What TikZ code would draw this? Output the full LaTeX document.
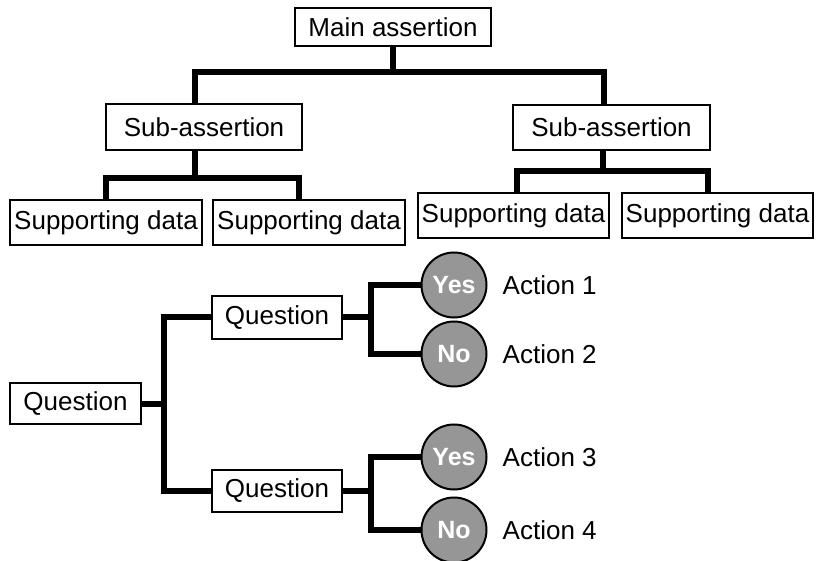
\documentclass[tikz,border=0pt]{standalone}
\usepackage{fontspec}
\setsansfont{Liberation Sans}
\usepackage{tikz}
\usetikzlibrary{positioning}

\definecolor{answergray}{RGB}{150,150,150}

\begin{document}
\begin{tikzpicture}[x=1pt,y=-1pt,
        box/.style={draw, black, line width=2pt, inner sep=0pt,
                font=\sffamily\fontsize{26}{30}\selectfont},
        answer/.style={circle, draw, black, line width=2pt, fill=answergray, minimum size=65pt,
                inner sep=0pt, text=white, font=\sffamily\bfseries\fontsize{25}{30}\selectfont},
        action/.style={inner sep=2pt, font=\sffamily\fontsize{26}{30}\selectfont},
        conn/.style={black, line width=6pt}]
                \useasboundingbox (0,0) rectangle (825,561);

                % assertion tree
                \node[box, minimum width=196pt, minimum height=38pt] (main) at (393,27) {Main assertion};
                \node[box, minimum width=196pt, minimum height=46pt] (subL) at (204,127) {Sub-assertion};
                \node[box, minimum width=197pt, minimum height=45pt] (subR) at (611.5,127.5) {Sub-assertion};
                \node[box, minimum width=192pt, minimum height=45pt] (sd1) at (106,222.5) {Supporting data};
                \node[box, minimum width=192pt, minimum height=45pt] (sd2) at (309,222.5) {Supporting data};
                \node[box, minimum width=191pt, minimum height=45pt] (sd3) at (513.5,215.5) {Supporting data};
                \node[box, minimum width=191pt, minimum height=45pt] (sd4) at (717.5,215.5) {Supporting data};

                \draw[conn] (main.south) -- ++(0,25) coordinate (mj);
                \draw[conn] ([xshift=-9pt]subL.north) |- (mj) -| ([xshift=-8pt]subR.north);
                \draw[conn] ([xshift=-9pt]subL.south) -- ++(0,27) coordinate (lj);
                \draw[conn] (sd1.north) |- (lj) -| ([xshift=-10pt]sd2.north);
                \draw[conn] ([xshift=-9pt]subR.south) -- ++(0,20) coordinate (rj);
                \draw[conn] ([xshift=3pt]sd3.north) |- (rj) -| ([xshift=-10pt]sd4.north);

                % question tree
                \node[box, minimum width=131pt, minimum height=41pt] (q0) at (75.5,403.5) {Question};
                \node[box, minimum width=130pt, minimum height=43pt] (q1) at (277,317.5) {Question};
                \node[box, minimum width=130pt, minimum height=42pt] (q2) at (277,491) {Question};

                \node[answer] (yes1) at (454,285) {Yes};
                \node[answer] (no1) at (454,354) {No};
                \node[answer] (yes2) at (454,457) {Yes};
                \node[answer] (no2) at (454,530) {No};

                \node[action, right=13pt of yes1] (act1) {Action 1};
                \node[action, right=13pt of no1] (act2) {Action 2};
                \node[action, right=13pt of yes2] (act3) {Action 3};
                \node[action, right=13pt of no2] (act4) {Action 4};

                \draw[conn] (q0.east) -- ++(22,0) coordinate (qj);
                \draw[conn] (q1.west) -| (qj) |- (q2.west);
                \draw[conn] (q1.east) -- ++(28,0) coordinate (aj1);
                \draw[conn] (yes1.west) -| (aj1) |- (no1.west);
                \draw[conn] (q2.east) -- ++(28,0) coordinate (aj2);
                \draw[conn] (yes2.west) -| (aj2) |- (no2.west);
                \end{tikzpicture}
\end{document}
